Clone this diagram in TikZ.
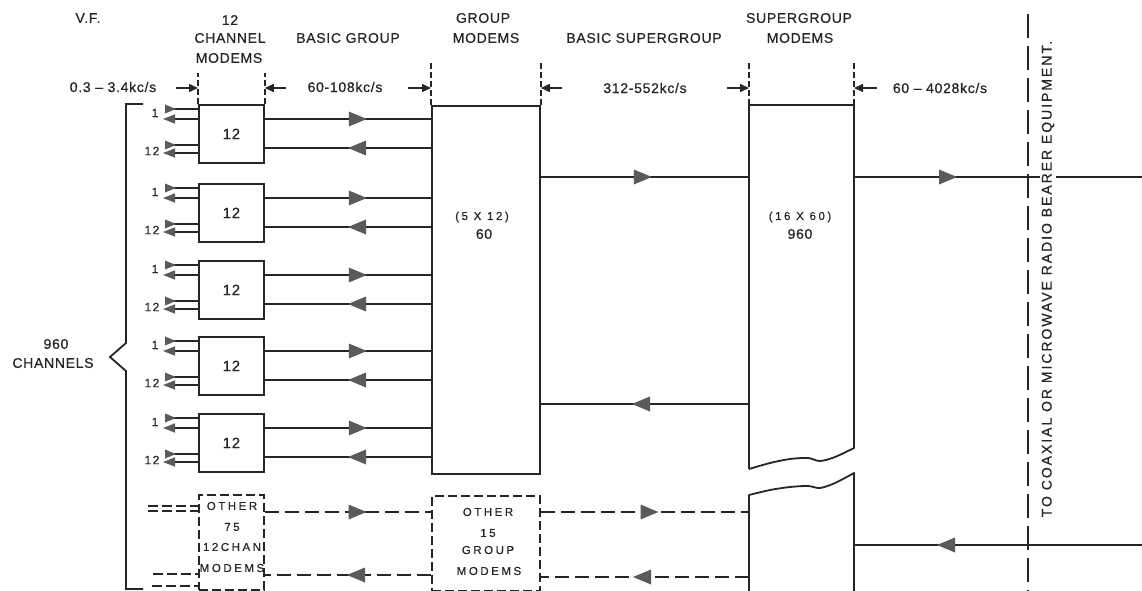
\documentclass[tikz,border=0pt]{standalone}
\usepackage{fontspec}
\setmainfont{Liberation Sans}[LetterSpace=5,FakeBold=0.6]
\newfontfamily\widefont{Liberation Sans}[LetterSpace=22,FakeBold=0.5]
\newfontfamily\vertfont{Liberation Sans}[LetterSpace=14,FakeBold=0.6]
\newfontfamily\smlfont{Liberation Sans}[LetterSpace=12,FakeBold=0.6]
\usetikzlibrary{arrows.meta,decorations.markings,calc}
\definecolor{ink}{HTML}{262626}
\definecolor{tipgray}{HTML}{5A5A5A}
\begin{document}
\begin{tikzpicture}[x=1pt,y=-1pt,
  every node/.style={text=ink},
  txt/.style={inner sep=0pt, font=\fontsize{14}{16}\selectfont},
  sml/.style={inner sep=0pt, font=\smlfont\fontsize{12}{13}\selectfont},
  wtxt/.style={inner sep=0pt, font=\widefont\fontsize{11.5}{13}\selectfont},
  box/.style={draw=ink, line width=1.8pt, rectangle, inner sep=0pt, anchor=north west},
  dbox/.style={draw=ink, line width=1.5pt, dash pattern=on 9pt off 4pt, rectangle, inner sep=0pt, anchor=north west},
  ghost/.style={draw=none, rectangle, inner sep=0pt, outer sep=0pt, anchor=north west},
  ln/.style={draw=ink, line width=1.6pt},
  dln/.style={draw=ink, line width=1.6pt, dash pattern=on 14pt off 6pt},
  tick/.style={draw=ink, line width=1.4pt, dash pattern=on 6pt off 3pt},
  midtip/.style={postaction={decorate,decoration={markings,mark=at position #1 with {\fill[tipgray] (-18pt,-7.5pt) -- (0pt,0pt) -- (-18pt,7.5pt) -- cycle;}}}},
  intip/.style={postaction={decorate,decoration={markings,mark=at position #1 with {\fill[tipgray] (-11pt,-4.5pt) -- (0pt,0pt) -- (-11pt,4.5pt) -- cycle;}}}},
  outtip/.style={-{Triangle[length=12pt,width=9pt,color=tipgray]}},
  rng/.style={draw=ink, line width=1.5pt, -{Triangle[length=9pt,width=8pt,color=ink]}},
]
\useasboundingbox (0,0) rectangle (1142,591);
\fill[white] (0,0) rectangle (1142,591);

% headers
\node[txt] (hVF) at (88,18) {V.F.};
\node[txt] (h12a) at (230,20) {12};
\node[txt] (h12b) at (230,38) {CHANNEL};
\node[txt] (h12c) at (229,58) {MODEMS};
\node[txt] (hBG) at (348,38) {BASIC GROUP};
\node[txt] (hGMa) at (483,18) {GROUP};
\node[txt] (hGMb) at (486,38) {MODEMS};
\node[txt] (hBSG) at (644,38) {BASIC SUPERGROUP};
\node[txt] (hSGa) at (799,18) {SUPERGROUP};
\node[txt] (hSGb) at (800,38) {MODEMS};

% group modems
\node[box, minimum width=108pt, minimum height=368pt] (gm) at (431,105) {};
\node[wtxt] (gmA) at (482,217) {(5 X 12)};
\node[txt] (gmB) at (484,234) {60};

% supergroup modems
\node[ghost, minimum width=105pt, minimum height=364pt] (sg) at (749,105) {};
\node[ghost, minimum width=105pt, minimum height=96pt] (sgl) at (749,495) {};
\node[wtxt] (sgA) at (800,217) {(16 X 60)};
\node[txt] (sgB) at (800,234) {960};
\draw[ln, line width=1.8pt, line join=round] (749,469) -- (749,105) -- (854,105) -- (854,448) -- plot[smooth] coordinates {(854,448) (835,457) (820,461) (808,458) (790,459) (770,463) (749,469)};
\draw[ln, line width=1.8pt, line join=round] (749,591) -- plot[smooth] coordinates {(749,495) (770,490) (790,487) (808,486) (820,488) (835,483) (854,473)} -- (854,591);

% channel modems
\foreach \i/\t in {1/104,2/183,3/260,4/336,5/413}{
  \node[box, minimum width=65pt, minimum height=58pt, font=\fontsize{15}{16}\selectfont] (cm\i) at (198,\t) {12};
  \path ($(cm\i.north east)+(0,15)$) coordinate (u\i);
  \path ($(cm\i.north east)+(0,44)$) coordinate (w\i);
  \draw[ln, midtip=102pt] (u\i) -- (gm.west |- u\i);
  \draw[ln, midtip=83pt] (gm.west |- w\i) -- (w\i);
  \draw[ln, line width=1.5pt, intip=11pt] ($(cm\i.north west)+(-33,5)$) -- ($(cm\i.north west)+(0,5)$);
  \draw[ln, line width=1.5pt, outtip] ($(cm\i.north west)+(0,15)$) -- ($(cm\i.north west)+(-35,15)$);
  \draw[ln, line width=1.5pt, intip=11pt] ($(cm\i.north west)+(-33,41)$) -- ($(cm\i.north west)+(0,41)$);
  \draw[ln, line width=1.5pt, outtip] ($(cm\i.north west)+(0,49)$) -- ($(cm\i.north west)+(-35,49)$);
  \node[sml] (one\i) at ($(cm\i.north west)+(-43,9)$) {1};
  \node[sml] (tw\i) at ($(cm\i.north west)+(-46,47)$) {12};
}

% tick marks and frequency ranges
\coordinate (hT1) at (0,73);
\coordinate (hT2) at (0,63);
\draw[tick] (cm1.north west) -- (cm1.north west |- hT1);
\draw[tick] (cm1.north east) -- (cm1.north east |- hT1);
\draw[tick] (gm.north west) -- (gm.north west |- hT2);
\draw[tick] (gm.north east) -- (gm.north east |- hT2);
\draw[tick] (sg.north west) -- (sg.north west |- hT2);
\draw[tick] (sg.north east) -- (sg.north east |- hT2);
\coordinate (a1) at (176,88); \draw[rng] (a1) -- (cm1.north west |- a1);
\coordinate (a2) at (286,88); \draw[rng] (a2) -- (cm1.north east |- a2);
\coordinate (a3) at (408,88); \draw[rng] (a3) -- (gm.north west |- a3);
\coordinate (a4) at (562,88); \draw[rng] (a4) -- (gm.north east |- a4);
\coordinate (a5) at (727,88); \draw[rng] (a5) -- (sg.north west |- a5);
\coordinate (a6) at (877,88); \draw[rng] (a6) -- (sg.north east |- a6);
\node[txt] (f1) at (113,87) {0.3 – 3.4kc/s};
\node[txt] (f2) at (345,87) {60-108kc/s};
\node[txt] (f3) at (645,88) {312-552kc/s};
\node[txt] (f4) at (940,88) {60 – 4028kc/s};

% brace
\draw[ln, line width=1.8pt] (143,104) -- (126,104) -- (126,343) -- (110,357) -- (126,371) -- (126,589) -- (143,589);
\node[txt] (n960) at (56,344) {960};
\node[txt] (nch) at (53,363) {CHANNELS};

% group to supergroup
\coordinate (r1) at (0,177);
\coordinate (r2) at (0,404);
\draw[ln, midtip=111pt] (gm.east |- r1) -- (sg.west |- r1);
\draw[ln, midtip=117pt] (sg.west |- r2) -- (gm.east |- r2);

% output / input
\coordinate (o1) at (1142,177);
\coordinate (i1) at (1142,545);
\draw[ln, midtip=103pt] (sg.east |- o1) -- (o1);
\draw[ln, midtip=205pt] (i1) -- (sgl.east |- i1);

% dashed section
\node[dbox, minimum width=65pt, minimum height=95pt] (ocm) at (198,494) {};
\node[wtxt] (oc1) at (232,506) {OTHER};
\node[wtxt] (oc2) at (232,527) {75};
\node[wtxt] (oc3) at (232,547) {12CHAN};
\node[wtxt] (oc4) at (232,568) {MODEMS};
\node[dbox, minimum width=108pt, minimum height=95pt] (ogm) at (431,495) {};
\node[wtxt] (og1) at (488,512) {OTHER};
\node[wtxt] (og2) at (488,533) {15};
\node[wtxt] (og3) at (488,550) {GROUP};
\node[wtxt] (og4) at (489,571) {MODEMS};
\coordinate (d1) at (0,512);
\coordinate (d2) at (0,575);
\coordinate (d3) at (0,577);
\draw[dln, midtip=102pt] (ocm.east |- d1) -- (ogm.west |- d1);
\draw[dln, midtip=84pt] (ogm.west |- d2) -- (ocm.east |- d2);
\draw[dln, midtip=118pt] (ogm.east |- d1) -- (sgl.west |- d1);
\draw[dln, midtip=116pt] (sgl.west |- d3) -- (ogm.east |- d3);
\coordinate (e1) at (148,506);
\coordinate (e2) at (148,511);
\coordinate (e3) at (153,574);
\coordinate (e4) at (152,586);
\draw[dln, dash pattern=on 10pt off 4pt] (e1) -- (ocm.west |- e1);
\draw[dln, dash pattern=on 10pt off 4pt] (e2) -- (ocm.west |- e2);
\draw[dln, dash pattern=on 10pt off 4pt] (e3) -- (ocm.west |- e3);
\draw[dln, dash pattern=on 10pt off 4pt] (e4) -- (ocm.west |- e4);

% right boundary
\coordinate (v1) at (1028,14);
\coordinate (v2) at (1028,591);
\draw[ln, line width=2pt, dash pattern=on 24pt off 8pt] (v1) -- (v2);
\node[rotate=90, fill=white, inner sep=1.5pt, font=\vertfont\fontsize{14}{16}\selectfont] (vt) at (1048,279) {TO COAXIAL OR MICROWAVE RADIO BEARER EQUIPMENT.};
\end{tikzpicture}
\end{document}
